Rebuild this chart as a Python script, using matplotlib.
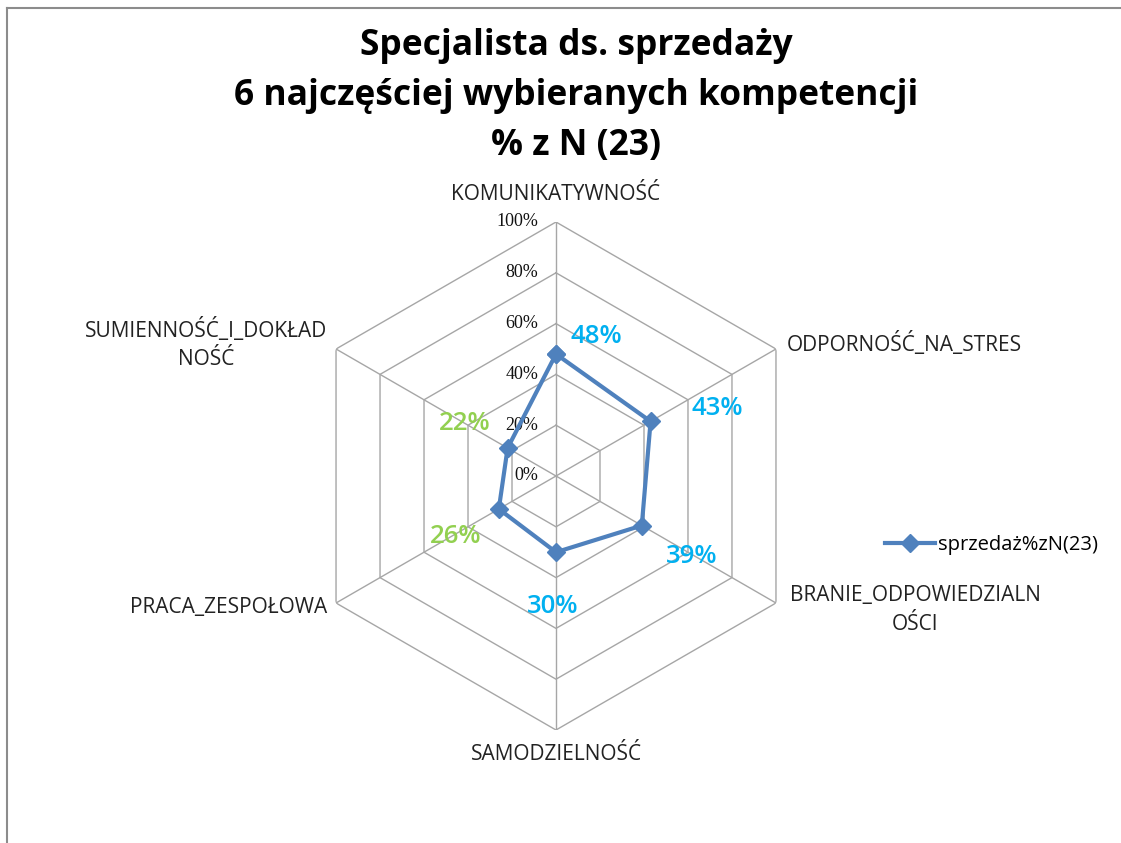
import numpy as np
import matplotlib.pyplot as plt
from matplotlib.lines import Line2D

categories = ["KOMUNIKATYWNOŚĆ", "ODPORNOŚĆ_NA_STRES", "BRANIE_ODPOWIEDZIALN\nOŚCI",
              "SAMODZIELNOŚĆ", "PRACA_ZESPOŁOWA", "SUMIENNOŚĆ_I_DOKŁAD\nNOŚĆ"]
values = [0.48, 0.43, 0.39, 0.30, 0.26, 0.22]
value_labels = ["48%", "43%", "39%", "30%", "26%", "22%"]
label_colors = ["#00B0F0", "#00B0F0", "#00B0F0", "#00B0F0", "#92D050", "#92D050"]
ticks = [0.0, 0.2, 0.4, 0.6, 0.8, 1.0]
tick_labels = ["0%", "20%", "40%", "60%", "80%", "100%"]
series_name = "sprzedaż%zN(23)"

plt.rcParams["font.family"] = ["Open Sans", "DejaVu Sans"]

W, H = 1121, 843
fig = plt.figure(figsize=(W / 100, H / 100), dpi=100)

cx, cy, R = 556, 476, 254
ax = fig.add_axes([(cx - R) / W, (H - cy - R) / H, 2 * R / W, 2 * R / H], projection="polar")
ax.set_theta_zero_location("N")
ax.set_theta_direction(-1)
ax.set_ylim(0, 1)
ax.grid(False)
ax.spines["polar"].set_visible(False)
ax.set_xticks([])
ax.set_yticks([])
ax.patch.set_alpha(0)

n = len(categories)
angles = np.arange(n) * 2 * np.pi / n
closed = np.append(angles, angles[0])

# hexagon grid
for t in ticks[1:]:
    ax.plot(closed, [t] * (n + 1), color="#A6A6A6", lw=1.0, zorder=1)
for a in angles:
    ax.plot([a, a], [0, 1], color="#A6A6A6", lw=1.0, zorder=1)

# tick labels along the top spoke
for t, lab in zip(ticks, tick_labels):
    ax.annotate(lab, xy=(0, t), xytext=(-18, 0), textcoords="offset pixels",
                ha="right", va="center", fontsize=13, family="Liberation Serif",
                color="#111111")

# series
ax.plot(closed, values + values[:1], color="#4F81BD", lw=3, marker="D",
        markersize=9, zorder=3)

# data labels (pixel offsets, up is positive)
offsets = [(40, 18), (67, 13), (50, -31), (-3, -54), (-43, -27), (-43, 25)]
for a, v, lab, c, off in zip(angles, values, value_labels, label_colors, offsets):
    ax.annotate(lab, xy=(a, v), xytext=off, textcoords="offset pixels",
                ha="center", va="center", fontsize=18.5, fontweight="semibold", color=c)

# category labels
cat_pos = [(556, 195, "center"), (787, 344, "left"), (790, 610, "left"),
           (556, 755, "center"), (327, 608, "right"), (327, 344, "right")]
for lab, (x, y, ha) in zip(categories, cat_pos):
    fig.text(x / W, 1 - y / H, lab, ha=ha, va="center", multialignment="center",
             fontsize=15, color="#222222", linespacing=1.45)

fig.text(576 / W, 1 - 96 / H, "Specjalista ds. sprzedaży\n6 najczęściej wybieranych kompetencji\n% z N (23)",
         ha="center", va="center", fontsize=25.5, fontweight="bold", linespacing=1.5)

handle = Line2D([], [], color="#4F81BD", lw=3, marker="D", markersize=9)
fig.legend([handle], [series_name], loc="center left", bbox_to_anchor=(885 / W, 1 - 545 / H),
           frameon=False, fontsize=14.5, handlelength=2.5, handletextpad=0.15,
           borderaxespad=0, borderpad=0)

# chart-area frame (cropped)
fig.add_artist(Line2D([7 / W, 7 / W], [0, 1 - 8 / H], color="#8C8C8C", lw=1.5))
fig.add_artist(Line2D([7 / W, 1], [1 - 8 / H, 1 - 8 / H], color="#8C8C8C", lw=1.5))

fig.savefig("out.png", dpi=100)
